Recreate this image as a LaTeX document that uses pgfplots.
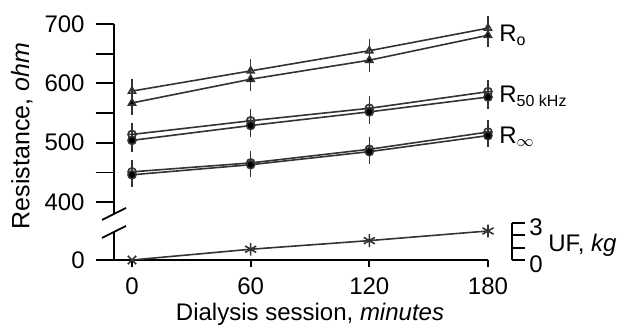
\documentclass[border=0pt]{standalone}
\usepackage{pgfplots}
\pgfplotsset{compat=1.18}
\usepackage{fontspec}
\setmainfont{Liberation Sans}
\begin{document}
\begin{tikzpicture}
\useasboundingbox (0,0) rectangle (309pt,165pt);
\pgfplotsset{
  every axis/.append style={font=\fontsize{12}{14}\selectfont, scale only axis, clip=false,
    /pgf/number format/assume math mode=true,
    axis line style={-, line width=0.9pt, black},
    every tick/.style={line width=0.9pt, black},
    tick align=outside},
  ser/.style={black!80, line width=0.8pt, mark size=2pt,
    error bars/y dir=both, error bars/y fixed=20, error bars/error mark=none,
    error bars/error bar style={line width=0.8pt, black!80}},
}
% upper resistance axis
\begin{axis}[at={(57pt,58pt)}, anchor=south west, width=187pt, height=95pt,
  xmin=-9.1, xmax=180, ymin=380, ymax=700,
  axis x line=none, axis y line*=left,
  ytick={400,450,500,550,600,650,700}, yticklabels={400,,500,,600,,700},
  major tick length=9pt,
  yticklabel style={inner sep=0pt, xshift=-5.5pt}]
\addplot[ser, mark=triangle, mark options={fill=white, solid}] coordinates {(0,587)(60,621)(120,655)(180,693)};
\addplot[ser, mark=triangle*, mark options={fill=black}] coordinates {(0,567)(60,607)(120,639)(180,681)};
\addplot[ser, mark=oplus, mark options={fill=white}] coordinates {(0,514)(60,537)(120,558)(180,586)};
\addplot[ser, mark=*, mark options={fill=black}] coordinates {(0,504)(60,529)(120,552)(180,577)};
\addplot[ser, mark=oplus, mark options={fill=white}] coordinates {(0,451)(60,466)(120,489)(180,518)};
\addplot[ser, mark=*, mark options={fill=black}] coordinates {(0,446)(60,463)(120,485)(180,512)};
\node[anchor=base west, inner sep=0pt, xshift=5.5pt] at (axis cs:180,670) {R\textsubscript{o}};
\node[anchor=base west, inner sep=0pt, xshift=5.5pt] at (axis cs:180,567) {R\textsubscript{50 kHz}};
\node[anchor=base west, inner sep=0pt, xshift=5.5pt] at (axis cs:180,499) {R\textsubscript{$\infty$}};
\end{axis}
% lower axis (resistance 0, UF in kg)
\begin{axis}[at={(57pt,35pt)}, anchor=south west, width=187pt, height=14.5pt,
  xmin=-9.1, xmax=180, ymin=0, ymax=2.35,
  axis x line*=bottom, axis y line*=left,
  xtick={0,60,120,180}, ytick={0},
  major tick length=9pt,
  xtick style={/pgfplots/major tick length=3.5pt},
  yticklabel style={inner sep=0pt, xshift=-5.5pt},
  xticklabel style={inner sep=0pt, yshift=0.5pt}]
\addplot[black!80, line width=0.8pt, mark=asterisk, mark size=3.2pt, mark indices={2,3,4}] coordinates {(0,0)(60,0.87)(120,1.57)(180,2.35)};
\addplot[only marks, black!80, line width=0.8pt, mark=x, mark size=3pt] coordinates {(0,0)};
\end{axis}
% UF axis
\begin{axis}[at={(256pt,35pt)}, anchor=south east, width=0.5pt, height=18.5pt,
  xmin=0, xmax=1, ymin=0, ymax=3,
  axis x line=none, axis y line*=right,
  ytick={0,1,2,3}, yticklabels={0,,,3},
  major tick length=6.5pt,
  yticklabel style={inner sep=0pt, xshift=2pt, yshift=-2pt}]
\end{axis}
% axis break
\draw[line width=0.9pt] (51pt,55pt) -- (63pt,61pt);
\draw[line width=0.9pt] (51pt,46pt) -- (63pt,52pt);
% labels
\node[rotate=90, font=\fontsize{12.5}{14}\selectfont] at (11pt,97pt) {Resistance, \textit{ohm}};
\node[font=\fontsize{12}{14}\selectfont] at (155pt,8pt) {Dialysis session, \textit{minutes}};
\node[anchor=west, inner sep=0pt, font=\fontsize{12}{14}\selectfont] at (274pt,42.5pt) {UF, \textit{kg}};
\end{tikzpicture}
\end{document}
